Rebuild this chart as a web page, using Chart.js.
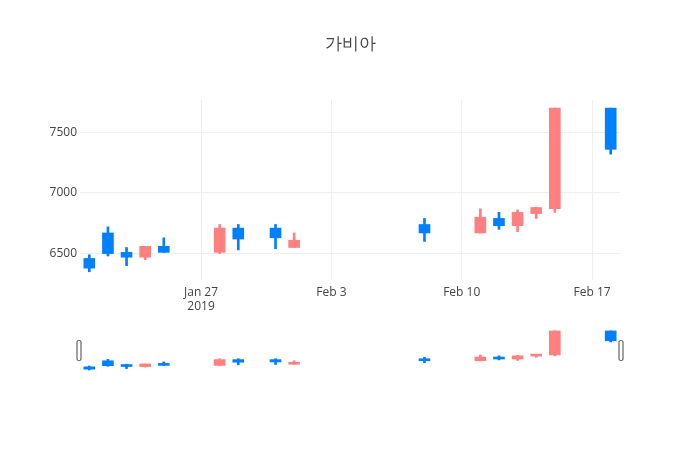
<!DOCTYPE html>
<html>
<head>
<meta charset="utf-8">
<script src="https://cdn.jsdelivr.net/npm/chart.js@4"></script>
<style>
  html, body { margin: 0; padding: 0; background: #fff; }
  #wrap { position: relative; width: 700px; height: 450px; }
  #wrap canvas { position: absolute; left: 0; top: 0; }
</style>
</head>
<body>
<div id="wrap">
  <canvas id="main" width="700" height="450"></canvas>
  <canvas id="slider" width="700" height="450"></canvas>
</div>
<script>
// 가비아 daily candles, Jan 21 - Feb 18 2019
const dates  = ['2019-01-21', '2019-01-22', '2019-01-23', '2019-01-24', '2019-01-25',
                '2019-01-28', '2019-01-29', '2019-01-31', '2019-02-01',
                '2019-02-08', '2019-02-11', '2019-02-12', '2019-02-13', '2019-02-14', '2019-02-15',
                '2019-02-18'];
const opens  = [6460, 6670, 6510, 6470, 6560, 6510, 6710, 6710, 6550, 6740, 6670, 6790, 6730, 6830, 6870, 7700];
const closes = [6380, 6500, 6470, 6560, 6510, 6710, 6620, 6630, 6610, 6670, 6800, 6730, 6840, 6880, 7700, 7360];
const highs  = [6490, 6720, 6550, 6560, 6630, 6740, 6740, 6740, 6670, 6790, 6870, 6840, 6860, 6880, 7700, 7700];
const lows   = [6350, 6480, 6400, 6450, 6510, 6500, 6530, 6540, 6550, 6600, 6670, 6700, 6680, 6790, 6840, 7320];

const xTickDays   = [0, 7, 14, 21];   // days after Jan 27
const xTickLabels = [['Jan 27', '2019'], 'Feb 3', 'Feb 10', 'Feb 17'];
const yTicks      = [6500, 7000, 7500];

const UP_COLOR   = 'rgb(255,128,128)';
const DOWN_COLOR = 'rgb(0,128,255)';

const BASE = Date.UTC(2019, 0, 27);
function dayOffset(s) {
  const p = s.split('-').map(Number);
  return (Date.UTC(p[0], p[1] - 1, p[2]) - BASE) / 86400000;
}

const xs     = dates.map(dayOffset);
const colors = opens.map((o, i) => closes[i] >= o ? UP_COLOR : DOWN_COLOR);

const X_MIN = xs[0] - 0.5, X_MAX = xs[xs.length - 1] + 0.5;
const Y_MIN = 6282, Y_MAX = 7767;

Chart.defaults.font.family = '"Open Sans", sans-serif';
Chart.defaults.font.size = 12;
Chart.defaults.color = '#444';

function candleSets() {
  return [
    {
      label: 'wick',
      data: xs.map((x, i) => ({ x: x, y: [lows[i], highs[i]] })),
      backgroundColor: colors,
      barThickness: 2,
      grouped: false,
      order: 2
    },
    {
      label: 'body',
      data: xs.map((x, i) => ({ x: x, y: [opens[i], closes[i]] })),
      backgroundColor: colors,
      barThickness: 11,
      minBarLength: 2,
      grouped: false,
      order: 1
    }
  ];
}

// main chart
new Chart(document.getElementById('main'), {
  type: 'bar',
  data: { datasets: candleSets() },
  options: {
    responsive: false,
    animation: false,
    layout: { padding: { left: 0, right: 0, top: 0, bottom: 130 } },
    plugins: {
      legend: { display: false },
      tooltip: { enabled: false },
      title: {
        display: true,
        text: '가비아',
        color: '#444',
        font: { size: 17, weight: 'normal' },
        padding: { top: 34, bottom: 45.6 }
      }
    },
    scales: {
      x: {
        type: 'linear',
        min: X_MIN,
        max: X_MAX,
        offset: false,
        border: { display: false },
        grid: { color: '#eee', drawTicks: false, offset: false },
        afterBuildTicks: s => { s.ticks = xTickDays.map(v => ({ value: v })); },
        afterFit: s => { s.height = 40; },
        ticks: {
          padding: 5,
          maxRotation: 0,
          autoSkip: false,
          callback: v => xTickLabels[xTickDays.indexOf(v)]
        }
      },
      y: {
        min: Y_MIN,
        max: Y_MAX,
        border: { display: false },
        grid: { color: '#eee', drawTicks: false },
        afterBuildTicks: s => { s.ticks = yTicks.map(v => ({ value: v })); },
        afterFit: s => { s.width = 80; },
        ticks: { padding: 3, callback: v => String(v) }
      },
      // empty right margin so the title centres on the page
      yRight: {
        position: 'right',
        min: Y_MIN,
        max: Y_MAX,
        border: { display: false },
        grid: { display: false },
        ticks: { display: false },
        afterFit: s => { s.width = 80; }
      }
    }
  }
});

// range slider handles
const handles = {
  id: 'handles',
  afterDraw(chart) {
    const { ctx, chartArea: a } = chart;
    const mid = (a.top + a.bottom) / 2;
    ctx.save();
    ctx.strokeStyle = '#444';
    ctx.fillStyle = '#fff';
    ctx.lineWidth = 1;
    [a.left - 1, a.right + 1].forEach(x => {
      ctx.beginPath();
      ctx.roundRect(x - 2, mid - 10, 4, 20, 1.5);
      ctx.fill();
      ctx.stroke();
    });
    ctx.restore();
  }
};

new Chart(document.getElementById('slider'), {
  type: 'bar',
  data: { datasets: candleSets() },
  plugins: [handles],
  options: {
    responsive: false,
    animation: false,
    layout: { padding: { left: 80, right: 80, top: 329, bottom: 78 } },
    plugins: { legend: { display: false }, tooltip: { enabled: false } },
    scales: {
      x: { type: 'linear', display: false, min: X_MIN, max: X_MAX, offset: false },
      y: { display: false, min: Y_MIN, max: Y_MAX }
    }
  }
});
</script>
</body>
</html>
